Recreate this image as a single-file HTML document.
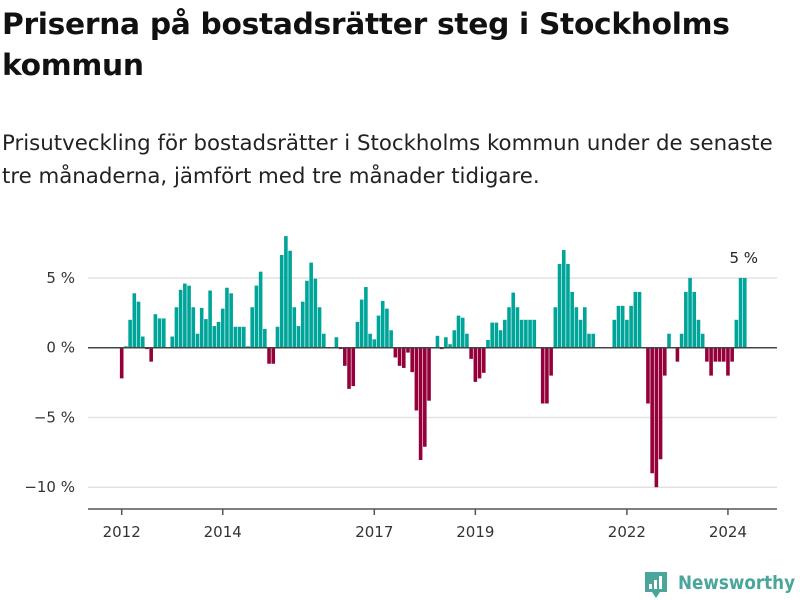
<!DOCTYPE html>
<html><head><meta charset="utf-8">
<style>
body{margin:0;width:800px;height:600px;background:#fff;overflow:hidden;font-family:"Liberation Sans","DejaVu Sans",sans-serif;color:#111;}
#title{position:absolute;left:2px;top:4px;width:790px;font-size:29.7px;font-weight:bold;line-height:41px;margin:0;font-family:"DejaVu Sans","Liberation Sans",sans-serif;letter-spacing:-0.3px}
#sub{position:absolute;left:2px;top:127px;width:786px;font-size:21.3px;line-height:33px;margin:0;font-family:"DejaVu Sans","Liberation Sans",sans-serif;color:#222}
svg{position:absolute;left:0;top:0}
</style></head><body>
<h1 id="title">Priserna på bostadsrätter steg i Stockholms kommun</h1>
<p id="sub">Prisutveckling för bostadsrätter i Stockholms kommun under de senaste tre månaderna, jämfört med tre månader tidigare.</p>
<svg id="chart" width="800" height="600"></svg>
<script>
const startYear = 2012;
const startMonth = 0;
const values = [-2.2,0.1,2.0,3.9,3.3,0.8,-0.1,-1.0,2.4,2.1,2.1,0,
0.8,2.9,4.15,4.6,4.45,2.9,1.0,2.85,2.05,4.1,1.55,1.85,
2.8,4.3,3.9,1.5,1.5,1.5,0.1,2.9,4.45,5.45,1.35,-1.15,
-1.15,1.5,6.65,8.0,6.95,2.9,1.55,3.3,4.8,6.1,4.95,2.9,
1.0,0,0,0.75,-0.1,-1.3,-2.95,-2.75,1.85,3.45,4.35,1.0,
0.6,2.3,3.35,2.8,1.25,-0.7,-1.3,-1.45,-0.35,-1.75,-4.5,-8.05,
-7.1,-3.8,0,0.85,-0.1,0.75,0.25,1.25,2.3,2.15,1.0,-0.8,
-2.45,-2.2,-1.8,0.55,1.8,1.8,1.25,2.0,2.9,3.95,2.9,2.0,
2,2,2,0,-4,-4,-2,2.9,6,7,6,4,
2.9,2,2.9,1,1,0,0,0,0,2,3,3,
2,3,4,4,0,-4,-9,-10,-8,-2,1,0,
-1,1,4,5,4,2,1,-1,-2,-1,-1,-1,
-2,-1,2,5,5];
const yTicks = [5,0,-5,-10];
const yTickLabels = ["5 %","0 %","−5 %","−10 %"];
const xTickYears = [2012,2014,2017,2019,2022,2024];
const lastLabel = "5 %";

const NS="http://www.w3.org/2000/svg";
const svg=document.getElementById('chart');
function mk(t,a){const e=document.createElementNS(NS,t);for(const k in a)e.setAttribute(k,a[k]);svg.appendChild(e);return e;}
const x0=121.7, pxPerMonth=4.21;
function xScale(monthIndex){return x0+pxPerMonth*monthIndex;}
function yScale(v){return 347.7-13.95*v;}
const left=88,right=777;

yTicks.forEach((t,i)=>{
  if(t!==0){const g=mk('line',{x1:left,x2:right,y1:yScale(t),y2:yScale(t),stroke:'#e2e2e2','stroke-width':1.5});
  
  }
  const l=mk('text',{x:75,y:yScale(t)+5,'text-anchor':'end','font-size':15,fill:'#333','font-family':'"DejaVu Sans","Liberation Sans",sans-serif'});
  l.textContent=yTickLabels[i];
  
  
});

values.forEach((v,i)=>{
  if(v===0)return;
  const cx=xScale(i);
  const y=Math.min(yScale(v),yScale(0)), h=Math.abs(yScale(v)-yScale(0));
  const r=mk('rect',{x:cx-1.8,y:y,width:3.6,height:h,fill:v>0?'#00a59a':'#95003b'});
  
  
});

const zl=mk('line',{x1:left,x2:right,y1:yScale(0),y2:yScale(0),stroke:'#444','stroke-width':1.5});


const ax=mk('line',{x1:left,x2:right,y1:509,y2:509,stroke:'#555','stroke-width':1.5});



xTickYears.forEach(yr=>{
  const m=(yr-startYear)*12-startMonth;
  const x=xScale(m);
  const tk=mk('line',{x1:x,x2:x,y1:509,y2:515,stroke:'#555','stroke-width':1.5});
  
  
  const t=mk('text',{x:x,y:537,'text-anchor':'middle','font-size':15,fill:'#333','font-family':'"DejaVu Sans","Liberation Sans",sans-serif'});
  t.textContent=String(yr);
  
  
});

const last=values.length-1;
const ll=mk('text',{x:xScale(last)-1,y:263,'text-anchor':'middle','font-size':15,fill:'#222','font-family':'"DejaVu Sans","Liberation Sans",sans-serif'});
ll.textContent=lastLabel;



// logo
const lg=mk('g',{});


const sh=document.createElementNS(NS,'path');
sh.setAttribute('d','M645 572 h22 v20 h-7 l-4 6 l-4 -6 h-7 z');
sh.setAttribute('fill','#4aa59a');
lg.appendChild(sh);
[[649,584,3,5],[654,580,3,9],[659,576,3,13]].forEach(b=>{const r=document.createElementNS(NS,'rect');r.setAttribute('x',b[0]);r.setAttribute('y',b[1]);r.setAttribute('width',b[2]);r.setAttribute('height',b[3]);r.setAttribute('fill','#fff');lg.appendChild(r);});
const lt=document.createElementNS(NS,'text');
lt.setAttribute('x',678);lt.setAttribute('y',589);lt.setAttribute('font-size',19);lt.setAttribute('font-weight','bold');lt.setAttribute('fill','#4aa59a');lt.setAttribute('font-family','"DejaVu Sans","Liberation Sans",sans-serif');
lt.setAttribute('textLength','117');lt.setAttribute('lengthAdjust','spacingAndGlyphs');
lt.textContent='Newsworthy';
lg.appendChild(lt);
</script>
</body></html>
